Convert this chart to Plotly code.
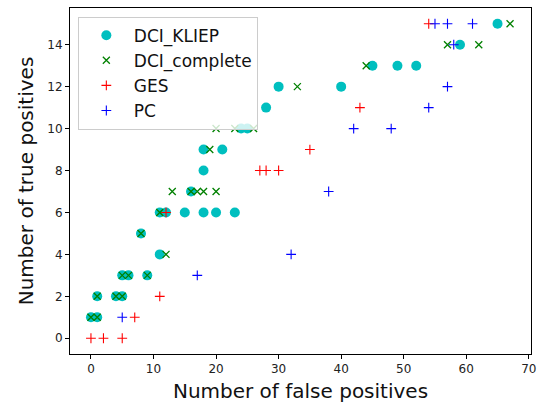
import plotly.graph_objects as go

# DCI_KLIEP
kliep_fp = [0, 1, 1, 4, 5, 5, 6, 9, 11, 8, 11, 12, 15, 18, 20, 23, 16, 18, 18, 21, 24, 25, 28, 30, 40, 45, 49, 52, 59, 65]
kliep_tp = [1, 1, 2, 2, 2, 3, 3, 3, 4, 5, 6, 6, 6, 6, 6, 6, 7, 8, 9, 9, 10, 10, 11, 12, 12, 13, 13, 13, 14, 15]
# DCI_complete
comp_fp = [0, 1, 1, 4, 5, 5, 6, 9, 12, 8, 11, 13, 16, 17, 18, 20, 19, 20, 23, 26, 33, 44, 57, 62, 67]
comp_tp = [1, 1, 2, 2, 2, 3, 3, 3, 4, 5, 6, 7, 7, 7, 7, 7, 9, 10, 10, 10, 12, 13, 14, 14, 15]
# GES
ges_fp = [0, 2, 5, 7, 11, 12, 27, 28, 30, 35, 43, 54]
ges_tp = [0, 0, 0, 1, 2, 6, 8, 8, 8, 9, 11, 15]
# PC
pc_fp = [5, 17, 32, 38, 42, 48, 54, 57, 58, 55, 57, 61]
pc_tp = [1, 3, 4, 7, 10, 10, 11, 12, 14, 15, 15, 15]

x_ticks = [0, 10, 20, 30, 40, 50, 60, 70]
y_ticks = [0, 2, 4, 6, 8, 10, 12, 14]

fig = go.Figure()
fig.add_trace(go.Scatter(x=kliep_fp, y=kliep_tp, mode="markers", name="DCI_KLIEP",
                         marker=dict(symbol="circle", size=10, color="#00BFBF", line=dict(width=0))))
fig.add_trace(go.Scatter(x=comp_fp, y=comp_tp, mode="markers", name="DCI_complete",
                         marker=dict(symbol="x-thin-open", size=7, color="#008000", line=dict(width=1.3, color="#008000"))))
fig.add_trace(go.Scatter(x=ges_fp, y=ges_tp, mode="markers", name="GES",
                         marker=dict(symbol="cross-thin-open", size=7, color="#FF0000", line=dict(width=1.1, color="#FF0000"))))
fig.add_trace(go.Scatter(x=pc_fp, y=pc_tp, mode="markers", name="PC",
                         marker=dict(symbol="cross-thin-open", size=7, color="#0000FF", line=dict(width=1.1, color="#0000FF"))))

axis_common = dict(showline=True, linecolor="black", linewidth=1, mirror=True, ticks="outside",
                   ticklen=4, tickcolor="black", showgrid=False, zeroline=False,
                   tickfont=dict(family="DejaVu Sans", size=12, color="#222"))
fig.update_xaxes(range=[-3.35, 70.35], tickvals=x_ticks,
                 title=dict(text="Number of false positives", font=dict(family="DejaVu Sans", size=20, color="#111"), standoff=8),
                 **axis_common)
fig.update_yaxes(range=[-0.75, 15.75], tickvals=y_ticks,
                 title=dict(text="Number of true positives", font=dict(family="DejaVu Sans", size=20, color="#111"), standoff=8),
                 **axis_common)

fig.update_layout(
    width=542, height=408,
    margin=dict(l=70, r=6, t=8, b=54),
    plot_bgcolor="white", paper_bgcolor="white",
    legend=dict(x=0.017, y=0.975, xanchor="left", yanchor="top",
                bgcolor="rgba(255,255,255,0.8)", bordercolor="#cccccc", borderwidth=1,
                font=dict(family="DejaVu Sans", size=17, color="#111"),
                itemwidth=45),
    showlegend=True,
)

fig.write_html("out.html")
